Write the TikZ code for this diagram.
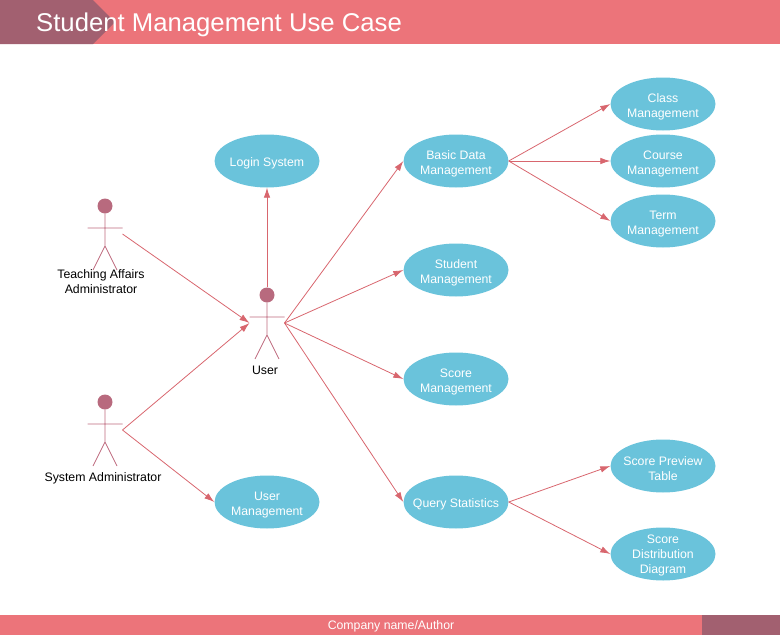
\documentclass[tikz,border=0pt]{standalone}
\usepackage{fontspec}
\setmainfont{Liberation Sans}
\usetikzlibrary{positioning,shapes.geometric,arrows.meta}
\definecolor{barred}{HTML}{EC747A}
\definecolor{bardark}{HTML}{A26070}
\definecolor{caseblue}{HTML}{6AC3DB}
\definecolor{headred}{HTML}{B86A7E}
\definecolor{linkred}{HTML}{D8666E}
\tikzset{
    usecase/.style={ellipse,fill=caseblue,text=white,minimum width=105pt,minimum height=53pt,inner xsep=-6pt,inner ysep=-9pt,align=center,font=\fontsize{12.3}{15}\selectfont,execute at begin node={\rule{0pt}{#1}}},
    usecase/.default=30pt,
    head/.style={circle,fill=headred,minimum size=15pt,inner sep=0pt},
    limb/.style={draw=headred!85!linkred,line width=0.8pt},
    link/.style={draw=linkred,line width=0.8pt,-{Latex[length=10pt,width=6.5pt]}},
    actorname/.style={align=center,text=black,font=\fontsize{12.3}{15}\selectfont,inner sep=0pt},
    bartext/.style={text=white,inner sep=0pt},
}
\newcommand{\actor}[1]{
    \coordinate[below=22pt of #1] (#1n);
    \coordinate[left=17.5pt of #1n] (#1l);
    \coordinate[right=17.5pt of #1n] (#1r);
    \coordinate[below=40pt of #1] (#1h);
    \coordinate[below=64pt of #1,xshift=-12pt] (#1a);
    \coordinate[below=64pt of #1,xshift=12pt] (#1b);
    \draw[limb] (#1) -- (#1h) -- (#1a) (#1h) -- (#1b) (#1l) -- (#1r);
    \coordinate[below=6pt of #1l] (#1in);
    \coordinate[below=6pt of #1r] (#1out);
}
\begin{document}
\begin{tikzpicture}[x=1pt,y=-1pt,on grid]
    \useasboundingbox (0,0) rectangle (780,635);
    % bars
    \fill[barred] (0,0) rectangle (780,44);
    \fill[bardark] (0,0) -- (93,0) -- (115,22) -- (93,44) -- (0,44) -- cycle;
    \fill[barred] (0,615) rectangle (780,635);
    \fill[bardark] (702,615) rectangle (780,635);
    \node[bartext,anchor=base west,font=\fontsize{25.7}{30}\selectfont] (title) at (36,31) {Student Management Use Case};
    \node[bartext,font=\fontsize{12.3}{14}\selectfont] (footer) at (391,626.5) {Company name/Author};
    % actors
    \node[head] (user) at (267,295) {};
    \node[head,above left=89pt and 162pt of user] (teach) {};
    \node[head,below=107pt of user,xshift=-162pt] (sysadm) {};
    \actor{user}
    \actor{teach}
    \actor{sysadm}
    \node[actorname,below=76pt of teach,xshift=-4pt] (teachlab) {Teaching Affairs\\ Administrator};
    \node[actorname,below=75pt of user,xshift=-2pt] (userlab) {User};
    \node[actorname,below=76pt of sysadm,xshift=-2pt] (sysadmlab) {System Administrator};
    % use cases
    \node[usecase=13pt,above=134pt of user] (login) {Login System};
    \node[usecase,right=189pt of login] (basic) {Basic Data\\Management};
    \node[usecase,below=109pt of basic] (student) {Student\\Management};
    \node[usecase,below=109pt of student] (score) {Score\\Management};
    \node[usecase=13pt,below=123pt of score] (query) {Query Statistics};
    \node[usecase,left=189pt of query] (usermgt) {User\\Management};
    \node[usecase,right=207pt of basic] (course) {Course\\Management};
    \node[usecase,above=57pt of course] (class) {Class\\Management};
    \node[usecase,below=60pt of course] (term) {Term\\Management};
    \node[usecase,right=207pt of query,yshift=36pt] (preview) {Score Preview\\Table};
    \node[usecase=41pt,below=88pt of preview] (distrib) {Score\\Distribution\\Diagram};
    % connectors
    \draw[link] (user) -- (login);
    \draw[link] (teachout) -- (userin);
    \draw[link] (sysadmout) -- (userin);
    \draw[link] (sysadmout) -- (usermgt.west);
    \draw[link] (userout) -- (basic.west);
    \draw[link] (userout) -- (student.west);
    \draw[link] (userout) -- (score.west);
    \draw[link] (userout) -- (query.west);
    \draw[link] (basic.east) -- (class.west);
    \draw[link] (basic.east) -- (course.west);
    \draw[link] (basic.east) -- (term.west);
    \draw[link] (query.east) -- (preview.west);
    \draw[link] (query.east) -- (distrib.west);
\end{tikzpicture}
\end{document}
